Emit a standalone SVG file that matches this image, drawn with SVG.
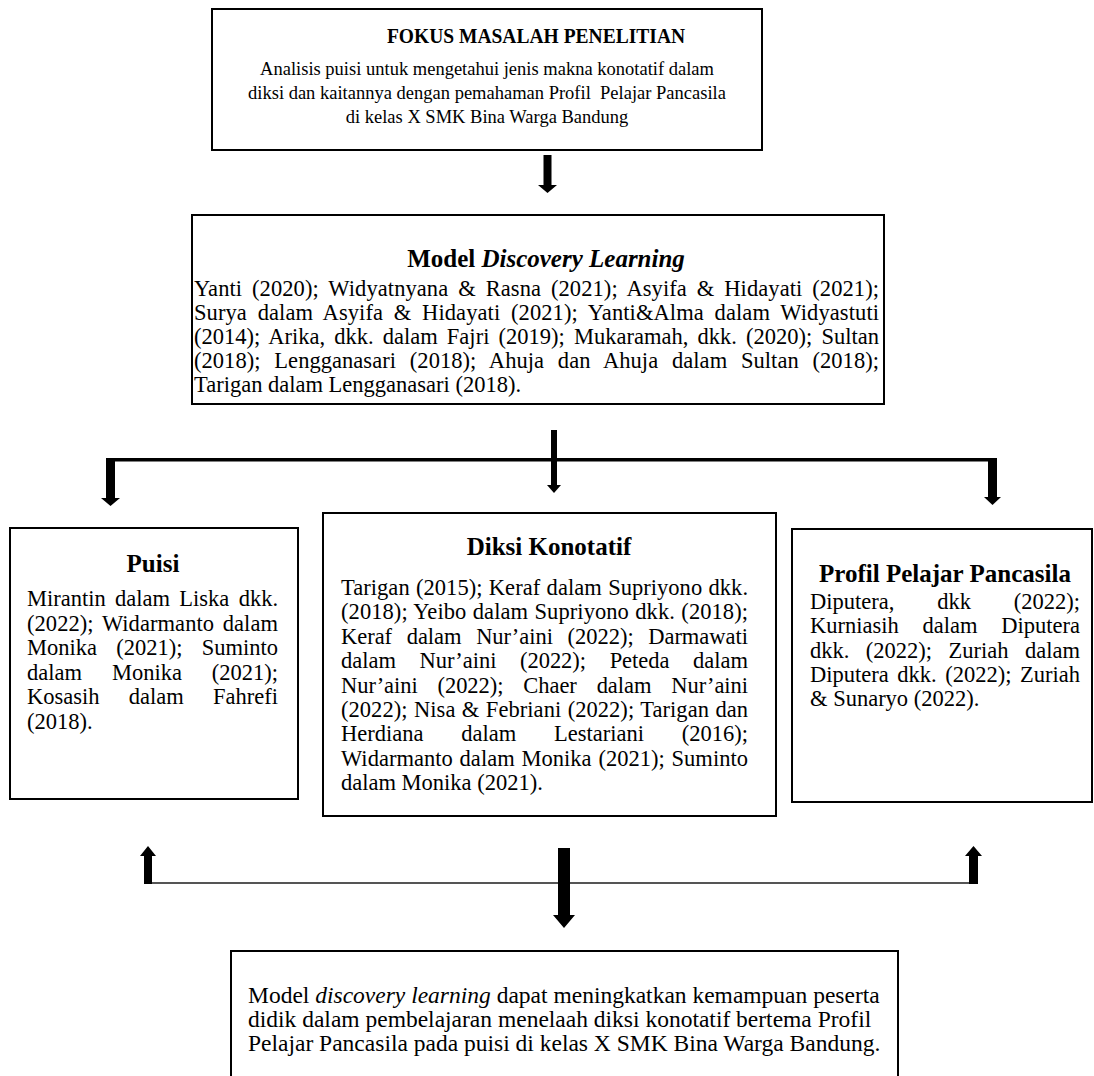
<svg xmlns="http://www.w3.org/2000/svg" width="1094" height="1076" viewBox="0 0 1094 1076">
<style>
text{font-family:"Liberation Serif","Times New Roman",serif;fill:#000}
.b{font-size:22.5px}
.s{font-size:19.5px}
.h{font-size:25px;font-weight:bold}
.box{fill:#fff;stroke:#000;stroke-width:2}
.arr{fill:#000}
</style>
<rect width="1094" height="1076" fill="#fff"/>
<g id="connectors">
<path class="arr" d="M543.5,155 H551.5 V185 H557 L547.5,193 L538,185 H543.5 Z"/>
<rect class="arr" x="106" y="458" width="891" height="3.5"/>
<path class="arr" d="M551,430 H557 V485 H561 L554,493 L547,485 H551 Z"/>
<path class="arr" d="M106,458 H115 V498 H120 L110.5,506 L101,498 H106 Z"/>
<path class="arr" d="M988,458 H997 V497 H1001 L992.5,505 L984,497 H988 Z"/>
<line x1="146" y1="883" x2="975" y2="883" stroke="#555" stroke-width="2"/>
<path class="arr" d="M144,884 V856 H140 L148,846 L156,856 H152 V884 Z"/>
<path class="arr" d="M969,884 V856 H965 L973.5,846 L982,856 H978 V884 Z"/>
<path class="arr" d="M558,848 H570 V915 H575 L564,928 L553,915 H558 Z"/>
</g>
<g id="node-fokus">
<rect class="box" x="212" y="9" width="550" height="141" stroke-width="2.5"/>
<g transform="translate(536 0) scale(0.93 1)"><text x="0" y="43" text-anchor="middle" style="font-size:21px;font-weight:bold">FOKUS MASALAH PENELITIAN</text></g>
<g transform="translate(487 0) scale(0.95 1)">
<text class="s" x="0" y="75" text-anchor="middle">Analisis puisi untuk mengetahui jenis makna konotatif dalam</text>
<text class="s" x="0" y="99" text-anchor="middle">diksi dan kaitannya dengan pemahaman Profil&#160; Pelajar Pancasila</text>
<text class="s" x="0" y="123" text-anchor="middle">di kelas X SMK Bina Warga Bandung</text>
</g>
</g>
<g id="node-model">
<rect class="box" x="192" y="215" width="692" height="189"/>
<text class="h" x="546" y="267" text-anchor="middle">Model <tspan font-style="italic">Discovery Learning</tspan></text>
<text class="b" x="194" y="296" word-spacing="4.2" textLength="685" lengthAdjust="spacing">Yanti (2020); Widyatnyana &amp; Rasna (2021); Asyifa &amp; Hidayati (2021);</text>
<text class="b" x="194" y="320" word-spacing="5" textLength="685" lengthAdjust="spacing">Surya dalam Asyifa &amp; Hidayati (2021); Yanti&amp;Alma dalam Widyastuti</text>
<text class="b" x="194" y="344" word-spacing="3.4" textLength="685" lengthAdjust="spacing">(2014); Arika, dkk. dalam Fajri (2019); Mukaramah, dkk. (2020); Sultan</text>
<text class="b" x="194" y="368" word-spacing="8.1" textLength="685" lengthAdjust="spacing">(2018); Lengganasari (2018); Ahuja dan Ahuja dalam Sultan (2018);</text>
<text class="b" x="194" y="392">Tarigan dalam Lengganasari (2018).</text>
</g>
<g id="node-puisi">
<rect class="box" x="10" y="528" width="288" height="271"/>
<text class="h" x="153" y="572" text-anchor="middle">Puisi</text>
<text class="b" x="27" y="606" word-spacing="3.7" textLength="251" lengthAdjust="spacing">Mirantin dalam Liska dkk.</text>
<text class="b" x="27" y="630.5" word-spacing="3" textLength="251" lengthAdjust="spacing">(2022); Widarmanto dalam</text>
<text class="b" x="27" y="655" word-spacing="13.6" textLength="251" lengthAdjust="spacing">Monika (2021); Suminto</text>
<text class="b" x="27" y="679.5" word-spacing="24.3" textLength="251" lengthAdjust="spacing">dalam Monika (2021);</text>
<text class="b" x="27" y="704" word-spacing="23.6" textLength="251" lengthAdjust="spacing">Kosasih dalam Fahrefi</text>
<text class="b" x="27" y="728.5">(2018).</text>
</g>
<g id="node-diksi">
<rect class="box" x="323" y="513" width="453" height="303"/>
<text class="h" x="549" y="555" text-anchor="middle">Diksi Konotatif</text>
<text class="b" x="341" y="595" word-spacing="0.7" textLength="407" lengthAdjust="spacing">Tarigan (2015); Keraf dalam Supriyono dkk.</text>
<text class="b" x="341" y="619.4" word-spacing="0.7" textLength="407" lengthAdjust="spacing">(2018); Yeibo dalam Supriyono dkk. (2018);</text>
<text class="b" x="341" y="643.8" word-spacing="9" textLength="407" lengthAdjust="spacing">Keraf dalam Nur’aini (2022); Darmawati</text>
<text class="b" x="341" y="668.2" word-spacing="18" textLength="407" lengthAdjust="spacing">dalam Nur’aini (2022); Peteda dalam</text>
<text class="b" x="341" y="692.6" word-spacing="14.3" textLength="407" lengthAdjust="spacing">Nur’aini (2022); Chaer dalam Nur’aini</text>
<text class="b" x="341" y="717" word-spacing="0.76" textLength="407" lengthAdjust="spacing">(2022); Nisa &amp; Febriani (2022); Tarigan dan</text>
<text class="b" x="341" y="741.4" word-spacing="32.1" textLength="407" lengthAdjust="spacing">Herdiana dalam Lestariani (2016);</text>
<text class="b" x="341" y="765.8" word-spacing="1.1" textLength="407" lengthAdjust="spacing">Widarmanto dalam Monika (2021); Suminto</text>
<text class="b" x="341" y="790.2">dalam Monika (2021).</text>
</g>
<g id="node-profil">
<rect class="box" x="792" y="529" width="300" height="273"/>
<text class="h" x="945" y="582" text-anchor="middle">Profil Pelajar Pancasila</text>
<text class="b" x="810" y="609" word-spacing="37.2" textLength="270" lengthAdjust="spacing">Diputera, dkk (2022);</text>
<text class="b" x="810" y="633.3" word-spacing="18.1" textLength="270" lengthAdjust="spacing">Kurniasih dalam Diputera</text>
<text class="b" x="810" y="657.6" word-spacing="10.8" textLength="270" lengthAdjust="spacing">dkk. (2022); Zuriah dalam</text>
<text class="b" x="810" y="681.9" word-spacing="2.9" textLength="270" lengthAdjust="spacing">Diputera dkk. (2022); Zuriah</text>
<text class="b" x="810" y="706.2">&amp; Sunaryo (2022).</text>
</g>
<g id="node-kesimpulan">
<rect class="box" x="231" y="951" width="667" height="200"/>
<text x="248" y="1003" style="font-size:23.5px">Model <tspan font-style="italic">discovery learning</tspan> dapat meningkatkan kemampuan peserta</text>
<text x="248" y="1027" style="font-size:23.5px">didik dalam pembelajaran menelaah diksi konotatif bertema Profil</text>
<text x="248" y="1051" style="font-size:23.5px">Pelajar Pancasila pada puisi di kelas X SMK Bina Warga Bandung.</text>
</g>
</svg>
